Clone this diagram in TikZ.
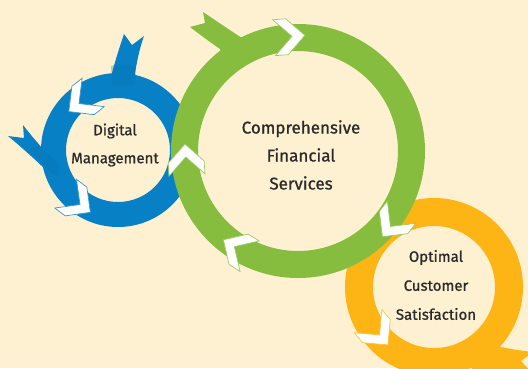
\documentclass[tikz,border=0pt]{standalone}
\usepackage{fontspec}
\setmainfont{Fira Sans}[FakeBold=0.9]
\definecolor{bg}{HTML}{FEF1D2}
\definecolor{cblue}{HTML}{0780C6}
\definecolor{cgreen}{HTML}{86BD3E}
\definecolor{corange}{HTML}{FDB515}
\definecolor{txt}{HTML}{2A2A2A}
\newcommand\chevron[4]{%
  \filldraw[chev=#4, shift={(#1,#2)}, rotate=#3]
    (-15.5,18) -- (-2.5,18) -- (15.5,0) -- (-2.5,-18) -- (-15.5,-18) -- (2.5,0) -- cycle;}
\begin{document}
\begin{tikzpicture}[x=1pt,y=-1pt,
  chev/.style={fill=white, draw=#1!80!white, line width=0.7pt, line join=miter},
  lbl/.style={text=txt, align=center, inner sep=0pt}]
\useasboundingbox (0,0) rectangle (528,368);
\clip (0,0) rectangle (528,368);
\fill[bg] (0,0) rectangle (528,368);
% blue ring and tails
\fill[cblue, even odd rule] (118,150) circle (77pt) (118,150) circle (52pt);
\fill[cblue] (112,88) -- (112,73) .. controls (116,58) and (120,46) .. (124,34) -- (132,45) -- (144,36)
  .. controls (139,50) and (137,62) .. (135,73) -- (135,88) -- cycle;
\fill[cblue!88!black, opacity=0.3] (111,66) .. controls (118,64) and (130,64) .. (136,67) -- (135,84) .. controls (128,86) and (118,86) .. (112,84) -- cycle;
\fill[cblue] (23,125) .. controls (30,134) and (36,141) .. (42,148) -- (62,160) -- (62,182) -- (50,174)
  .. controls (36,160) and (20,146) .. (8,136) -- (24,138) -- cycle;
\fill[cblue!88!black, opacity=0.3] (36,141) -- (44,150) -- (58,164) -- (58,176) -- (50,172) .. controls (44,166) and (38,158) .. (30,150) -- cycle;
% orange ring and tail
\fill[corange, even odd rule] (434,287) circle (89pt) (434,287) circle (61pt);
\fill[corange] (480,340) .. controls (495,347) and (515,350) .. (533,352) -- (521,361) -- (533,374) -- (470,374) -- cycle;
% green ring and tail
\fill[cgreen, even odd rule] (298,151) circle (127pt) (298,151) circle (100pt);
\fill[cgreen] (203,12) .. controls (215,20) and (228,29) .. (242,38) -- (248,56) -- (226,64) -- (220,49)
  .. controls (210,42) and (199,34) .. (190,27) -- (205,23) -- cycle;
% chevrons
\chevron{289.5}{36.5}{4.5}{cgreen}
\chevron{392}{224.5}{-128}{cgreen}
\chevron{236.5}{248}{148}{cgreen}
\chevron{186}{159.5}{93.6}{cgreen}
\chevron{81}{102}{218}{cblue}
\chevron{78}{203}{-37}{cblue}
\chevron{378}{333}{-50}{corange}
% labels
\node[lbl, font=\fontsize{17}{28}\selectfont] (fin) at (301,155) {Comprehensive\\Financial\\Services};
\node[lbl, font=\fontsize{15}{28}\selectfont] (dig) at (115,145) {Digital\\Management};
\node[lbl, font=\fontsize{15}{29}\selectfont] (opt) at (436,285) {Optimal\\Customer\\Satisfaction};
\end{tikzpicture}
\end{document}
